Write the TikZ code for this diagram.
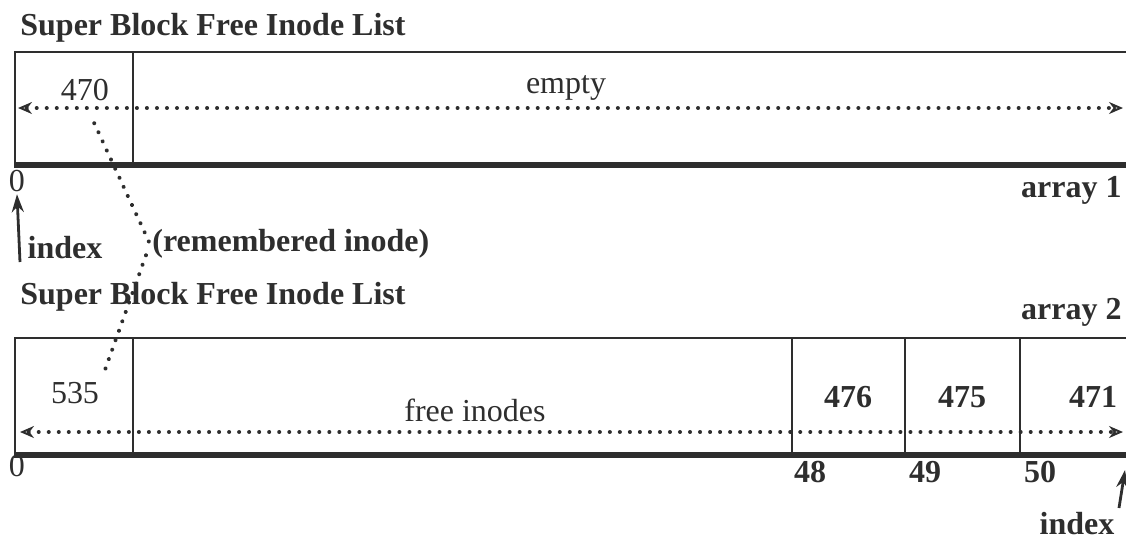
\documentclass[tikz,border=0pt]{standalone}
\usepackage{fontspec}
\setmainfont{Liberation Serif}
\usetikzlibrary{arrows.meta,calc,positioning}
\definecolor{ink}{HTML}{2E2E2E}
\tikzset{box/.style={draw=ink,line width=1.2pt},base/.style={draw=ink,line width=2.6pt},dots/.style={draw=ink,line width=2pt,line cap=round,dash pattern=on 0.01pt off 5pt},both/.style={dots,{Stealth[open,length=7pt,width=6pt,line width=1pt]}-{Stealth[open,length=7pt,width=6pt,line width=1pt]}},ptr/.style={draw=ink,line width=1.4pt,-{Stealth[length=9pt,width=6pt]}},lab/.style={font=\fontsize{16}{18}\selectfont,text=ink,inner sep=1pt},blab/.style={lab,font=\fontsize{16}{18}\selectfont\bfseries}}
\begin{document}
\begin{tikzpicture}[x=0.5pt,y=-0.5pt]
\useasboundingbox (0,0) rectangle (1126,542);
% first list
\node[blab,anchor=west] (title1) at (18,28) {Super Block Free Inode List};
\draw[box] (1126,52)--(15,52)--(15,165);\draw[box] (133,52)--(133,165);\draw[base] (14,165)--(1126,165);
\node[lab] (n470) at (85,90) {470};\node[lab] (empty) at (566,88) {empty};
\coordinate (l1) at (18,108);\coordinate (r1) at (1123,108);\draw[both] (l1)--(r1);
\node[lab] (zero1) at (17,181) {0};\node[blab,anchor=east] (arr1) at (1124,190) {array 1};
\coordinate (idx1) at (20,262);\draw[ptr] (idx1)--(zero1.south);
\node[blab] (index1) at (65,248) {index};\node[blab,anchor=west] (rem) at (150,244) {(remembered inode)};
% second list
\node[blab,anchor=west] (title2) at (18,297) {Super Block Free Inode List};\node[blab,anchor=east] (arr2) at (1124,312) {array 2};
\draw[box] (1126,338)--(15,338)--(15,455);\draw[base] (14,455)--(1126,455);
\foreach \x in {133,792,905,1020}{\draw[box] (\x,338)--(\x,455);}
\node[lab] (n535) at (75,393) {535};\node[lab] (free) at (475,410) {free inodes};
\foreach \x/\v in {848/476,962/475,1093/471}{\node[blab] (n\v) at (\x,397) {\v};}
\coordinate (l2) at (20,432);\coordinate (r2) at (1123,432);\draw[both] (l2)--(r2);
\node[lab] (zero2) at (17,466) {0};
\foreach \x/\v in {810/48,925/49,1040/50}{\node[blab] (i\v) at (\x,472) {\v};}
\coordinate (idx2) at (1119,508);\coordinate (tip2) at (1125,470);\draw[ptr] (idx2)--(tip2);
\node[blab] (index2) at (1077,524) {index};
% remembered inode leader
\draw[dots,shorten <=11pt] (n470.south)--(rem.west);\draw[dots,shorten <=6pt,shorten >=4pt] (rem.west)--(n535.north east);
\end{tikzpicture}
\end{document}
